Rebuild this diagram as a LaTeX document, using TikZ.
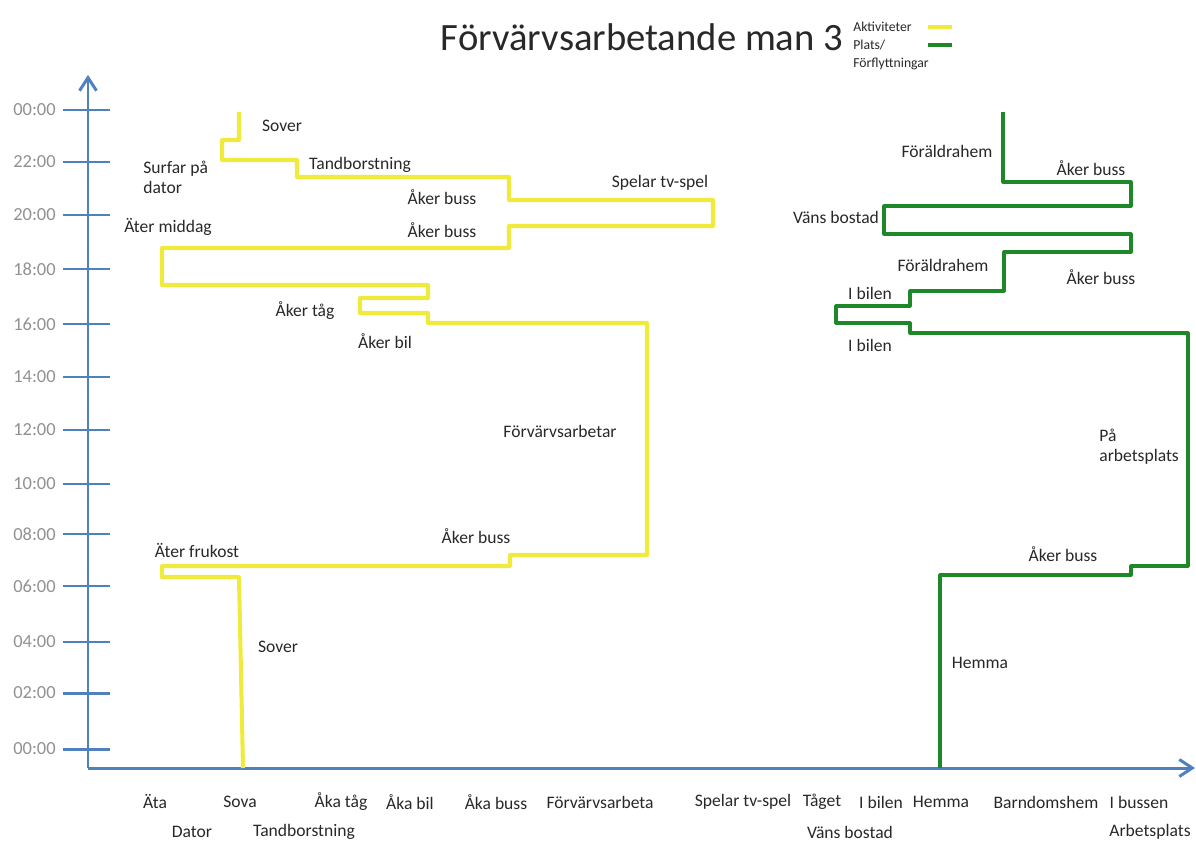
\documentclass[tikz,border=0pt]{standalone}
\usepackage{fontspec}
\setmainfont{Carlito}
\usetikzlibrary{arrows.meta}
\definecolor{axisblue}{RGB}{79,129,189}
\definecolor{actyellow}{RGB}{240,234,60}
\definecolor{placegreen}{RGB}{30,135,40}
\definecolor{ticktext}{RGB}{145,145,145}
\definecolor{labeltext}{RGB}{40,40,40}
\begin{document}
\begin{tikzpicture}[x=0.02cm,y=-0.02cm,
  lbl/.style={font=\fontsize{10}{11.5}\selectfont, text=labeltext, inner sep=0pt},
  axlbl/.style={font=\fontsize{10}{12}\selectfont, text=labeltext, inner sep=0pt},
  ticklbl/.style={font=\fontsize{10.5}{12}\selectfont, text=ticktext, inner sep=0pt, anchor=east},
  legtext/.style={font=\fontsize{7.8}{10.3}\selectfont, text=labeltext, inner sep=0pt, anchor=west, align=left},
  axisline/.style={draw=axisblue, line width=1.7pt},
  actline/.style={draw=actyellow, line width=2.3pt, line join=round},
  placeline/.style={draw=placegreen, line width=1.8pt, line join=round}]
\useasboundingbox (0,0) rectangle (1196,841);

% title and legend
\node[font=\fontsize{22}{26}\selectfont, text=labeltext, inner sep=0pt] (title) at (642,37) {Förvärvsarbetande man 3};
\node[legtext] (legend) at (853,46) {Aktiviteter\\Plats/\\Förflyttningar};
\coordinate (ly1) at (928,27); \coordinate (ly2) at (952,27);
\coordinate (lg1) at (928,45); \coordinate (lg2) at (952,45);
\draw[actline] (ly1) -- (ly2);
\draw[placeline] (lg1) -- (lg2);

% axes
\coordinate (origin) at (88,768);
\coordinate (ytip) at (88,75);
\coordinate (xtip) at (1195,768);
\draw[axisline, -{Straight Barb[length=2.6mm,width=3.4mm]}] (origin) -- (ytip);
\draw[axisline, -{Straight Barb[length=2.6mm,width=3.4mm]}] (origin) -- (xtip);

\foreach \yy/\t [count=\i] in {110/00:00,162/22:00,215/20:00,269/18:00,324/16:00,377/14:00,430/12:00,484/10:00,534/08:00,586/06:00,642/04:00,693/02:00,749/00:00}{
  \coordinate (tl\i) at (63,\yy);
  \coordinate (tr\i) at (110,\yy);
  \draw[axisline] (tl\i) -- (tr\i);
  \node[ticklbl] (tick\i) at (56,\yy) {\t};
}

% x axis labels
\node[axlbl] (xa1) at (155,802) {Äta};
\node[axlbl] (xa2) at (240,802) {Sova};
\node[axlbl] (xa3) at (341,802) {Åka tåg};
\node[axlbl] (xa4) at (410,802) {Åka bil};
\node[axlbl] (xa5) at (496,802) {Åka buss};
\node[axlbl] (xa6) at (600,802) {Förvärvsarbeta};
\node[axlbl] (xa7) at (743,802) {Spelar tv-spel};
\node[axlbl] (xa8) at (822,802) {Tåget};
\node[axlbl] (xa9) at (881,802) {I bilen};
\node[axlbl] (xa10) at (941,802) {Hemma};
\node[axlbl] (xa11) at (1046,802) {Barndomshem};
\node[axlbl] (xa12) at (1139,802) {I bussen};
\node[axlbl] (xb1) at (192,832) {Dator};
\node[axlbl] (xb2) at (304,832) {Tandborstning};
\node[axlbl] (xb3) at (850,832) {Väns bostad};
\node[axlbl] (xb4) at (1150,832) {Arbetsplats};

% activities (yellow)
\draw[actline] (243,768) -- (239,577) -- (162,577) -- (162,566) -- (510,566) -- (510,555)
  -- (647,555) -- (647,323) -- (428,323) -- (428,313) -- (360,313) -- (360,298)
  -- (428,298) -- (428,285) -- (162,285) -- (162,248) -- (509,248) -- (509,226)
  -- (713,226) -- (713,200) -- (509,200) -- (509,177) -- (297,177) -- (297,160)
  -- (222,160) -- (222,140) -- (239,140) -- (239,112);

\node[lbl] (a1) at (282,126) {Sover};
\node[lbl, align=left, anchor=west] (a2) at (143,177) {Surfar på\\dator};
\node[lbl] (a3) at (360,165) {Tandborstning};
\node[lbl] (a4) at (442,197) {Åker buss};
\node[lbl] (a5) at (660,183) {Spelar tv-spel};
\node[lbl] (a6) at (168,227) {Äter middag};
\node[lbl] (a7) at (442,230) {Åker buss};
\node[lbl] (a8) at (305,311) {Åker tåg};
\node[lbl] (a9) at (385,341) {Åker bil};
\node[lbl] (a10) at (560,431) {Förvärvsarbetar};
\node[lbl] (a11) at (476,536) {Åker buss};
\node[lbl] (a12) at (197,551) {Äter frukost};
\node[lbl] (a13) at (278,647) {Sover};

% places (green)
\draw[placeline] (940,768) -- (940,575) -- (1131,575) -- (1131,566) -- (1188,566)
  -- (1188,333) -- (910,333) -- (910,323) -- (836,323) -- (836,306) -- (910,306)
  -- (910,291) -- (1004,291) -- (1004,252) -- (1131,252) -- (1131,234) -- (884,234)
  -- (884,206) -- (1131,206) -- (1131,182) -- (1003,182) -- (1003,112);

\node[lbl] (p1) at (947,151) {Föräldrahem};
\node[lbl] (p2) at (1091,168) {Åker buss};
\node[lbl] (p3) at (836,217) {Väns bostad};
\node[lbl] (p4) at (943,265) {Föräldrahem};
\node[lbl] (p5) at (1101,277) {Åker buss};
\node[lbl] (p6) at (870,293) {I bilen};
\node[lbl] (p7) at (870,345) {I bilen};
\node[lbl, align=left, anchor=west] (p8) at (1099,447) {På\\arbetsplats};
\node[lbl] (p9) at (1063,554) {Åker buss};
\node[lbl] (p10) at (980,663) {Hemma};
\end{tikzpicture}
\end{document}
